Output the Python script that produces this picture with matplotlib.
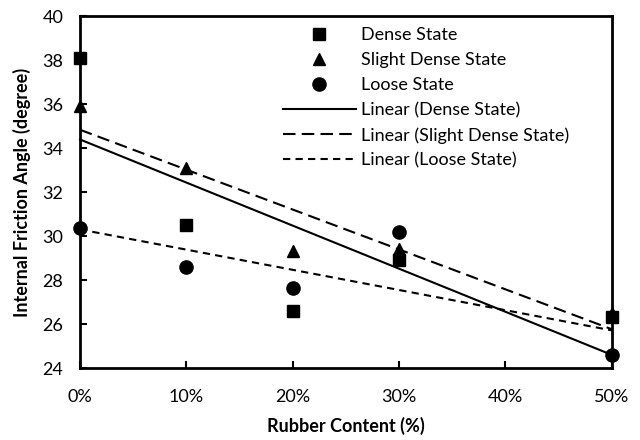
import numpy as np
import matplotlib
matplotlib.use('Agg')
import matplotlib.pyplot as plt

plt.rcParams['font.family'] = ['Lato', 'DejaVu Sans']

rubber = [0, 10, 20, 30, 50]
dense = [38.1, 30.5, 26.6, 28.9, 26.3]
slight_dense = [35.9, 33.1, 29.3, 29.4, 26.5]
loose = [30.35, 28.6, 27.65, 30.2, 24.6]
xticks = [0, 10, 20, 30, 40, 50]
xlabels = ['0%', '10%', '20%', '30%', '40%', '50%']

fig = plt.figure(figsize=(6.4, 4.4), dpi=100)
ax = fig.add_axes([0.125, 0.1636, 0.831, 0.8])

ax.plot(rubber, dense, 's', color='black', ms=8.5, label='Dense State')
ax.plot(rubber, slight_dense, '^', color='black', ms=8, label='Slight Dense State')
ax.plot(rubber, loose, 'o', color='black', ms=9.5, label='Loose State')

xx = np.array([0, 50])
styles = [(dense, None, 'Linear (Dense State)'),
          (slight_dense, (0, (6, 3)), 'Linear (Slight Dense State)'),
          (loose, (0, (3.5, 2.5)), 'Linear (Loose State)')]
for ys, dash, lab in styles:
    m, b = np.polyfit(rubber, ys, 1)
    line, = ax.plot(xx, m * xx + b, color='black', lw=1.5, label=lab)
    if dash is not None:
        line.set_linestyle(dash)

ax.set_xlim(0, 50)
ax.set_ylim(24, 40)
ax.set_xticks(xticks)
ax.set_xticklabels(xlabels)
ax.set_yticks(range(24, 41, 2))
ax.tick_params(direction='in', length=5, width=1.5, labelsize=13)
ax.tick_params(axis='y', pad=12)
ax.tick_params(axis='x', pad=15)
for s in ax.spines.values():
    s.set_linewidth(2)
for artist in ax.lines:
    artist.set_clip_on(False)

ax.set_xlabel('Rubber Content (%)', fontsize=13, fontweight='bold', labelpad=9)
ax.set_ylabel('Internal Friction Angle (degree)', fontsize=13, fontweight='bold', labelpad=8)

ax.legend(loc='upper right', bbox_to_anchor=(0.94, 1.0), frameon=False, fontsize=13,
          handlelength=4.0, labelspacing=0.5, handletextpad=0.3, borderaxespad=0.2)

fig.savefig('out.png', dpi=100)
